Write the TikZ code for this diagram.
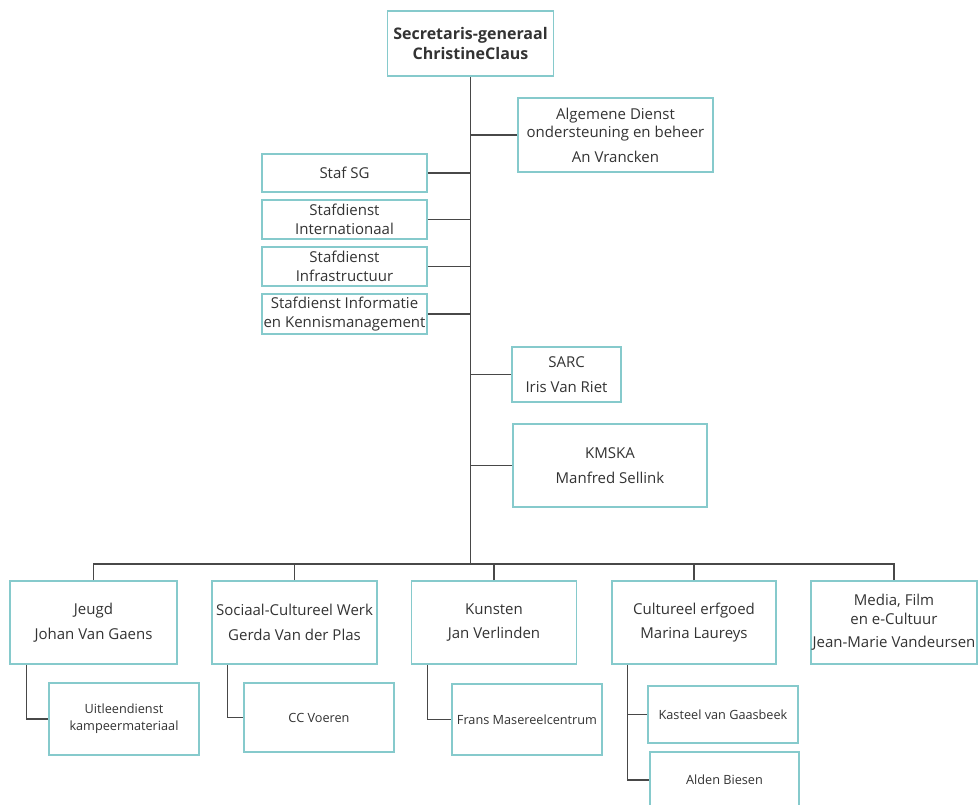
\documentclass[tikz,border=0pt]{standalone}
\usepackage{fontspec}
\setmainfont{Open Sans}
\definecolor{boxline}{HTML}{86CACC}
\definecolor{conn}{HTML}{484848}
\definecolor{txt}{HTML}{333333}
\begin{document}
\begin{tikzpicture}[x=1pt,y=-1pt,
  box/.style={draw=boxline, line width=1.6pt, fill=white, inner sep=0pt, align=center, text=txt,
    font=\fontsize{15}{18.5}\selectfont},
  subbox/.style={box, font=\fontsize{12.7}{17}\selectfont},
  topbox/.style={box, font=\fontsize{16}{20}\selectfont\bfseries},
  link/.style={draw=conn, line width=1.4pt}]
\clip (0,0) rectangle (978,805);
\fill[white] (0,0) rectangle (978,805);
% nodes
\node[topbox, minimum width=166pt, minimum height=65pt] (top) at (470.5,43.5) {Secretaris-generaal\\ChristineClaus};
\node[box, minimum width=195pt, minimum height=74pt] (alg) at (615.5,135) {Algemene Dienst\\ondersteuning en beheer\\[6pt]An Vrancken};
\node[box, minimum width=165pt, minimum height=38pt] (stafsg) at (344.5,173) {Staf SG};
\node[box, minimum width=165pt, minimum height=39pt] (intl) at (344.5,219.5) {Stafdienst\\Internationaal};
\node[box, minimum width=165pt, minimum height=39pt] (infra) at (344.5,266.5) {Stafdienst\\Infrastructuur};
\node[box, minimum width=165pt, minimum height=40pt] (info) at (344.5,314) {Stafdienst Informatie\\en Kennismanagement};
\node[box, minimum width=109pt, minimum height=55pt] (sarc) at (566.5,374.5) {SARC\\[6pt]Iris Van Riet};
\node[box, minimum width=194pt, minimum height=83pt] (kmska) at (610,465.5) {KMSKA\\[6pt]Manfred Sellink};
\node[box, minimum width=167pt, minimum height=83pt] (jeugd) at (93.5,622.5) {Jeugd\\[6pt]Johan Van Gaens};
\node[box, minimum width=165pt, minimum height=83pt] (sociaal) at (294.5,622.5) {Sociaal-Cultureel Werk\\[6pt]Gerda Van der Plas};
\node[box, minimum width=165pt, minimum height=83pt] (kunsten) at (494,622.5) {Kunsten\\[6pt]Jan Verlinden};
\node[box, minimum width=164pt, minimum height=83pt] (cult) at (694,622.5) {Cultureel erfgoed\\[6pt]Marina Laureys};
\node[box, minimum width=166pt, minimum height=83pt] (media) at (894,622.5) {Media, Film\\en e-Cultuur\\[5pt]Jean-Marie Vandeursen};
\node[subbox, minimum width=150pt, minimum height=72pt] (uit) at (124,719) {Uitleendienst\\kampeermateriaal};
\node[subbox, minimum width=150pt, minimum height=69pt] (cc) at (319,717.5) {CC Voeren};
\node[subbox, minimum width=150pt, minimum height=71pt] (frans) at (527,719.5) {Frans Masereelcentrum};
\node[subbox, minimum width=150pt, minimum height=57pt] (kasteel) at (723,714.5) {Kasteel van Gaasbeek};
\node[subbox, minimum width=149pt, minimum height=56pt] (alden) at (724.5,780) {Alden Biesen};
% connectors
\coordinate (bus) at (470.5,564);
\draw[link] (top.south) -- (bus);
\draw[link] (alg.west) -- (alg.west -| top.south);
\draw[link] (stafsg.east) -- (stafsg.east -| top.south);
\draw[link] (intl.east) -- (intl.east -| top.south);
\draw[link] (infra.east) -- (infra.east -| top.south);
\draw[link] (info.east) -- (info.east -| top.south);
\draw[link] (sarc.west) -- (sarc.west -| top.south);
\draw[link] (kmska.west) -- (kmska.west -| top.south);
\draw[link] (jeugd.north) -- (jeugd.north |- bus) -- (media.north |- bus) -- (media.north);
\draw[link] (sociaal.north) -- (sociaal.north |- bus);
\draw[link] (kunsten.north) -- (kunsten.north |- bus);
\draw[link] (cult.north) -- (cult.north |- bus);
\coordinate (jc) at ([xshift=17pt]jeugd.south west);
\coordinate (sc) at ([xshift=16pt]sociaal.south west);
\coordinate (kc) at ([xshift=16.5pt]kunsten.south west);
\coordinate (cc0) at ([xshift=16pt]cult.south west);
\draw[link] (jc) |- (uit.west);
\draw[link] (sc) |- (cc.west);
\draw[link] (kc) |- (frans.west);
\draw[link] (cc0) |- (alden.west);
\draw[link] (kasteel.west) -- (kasteel.west -| cc0);
\end{tikzpicture}
\end{document}
